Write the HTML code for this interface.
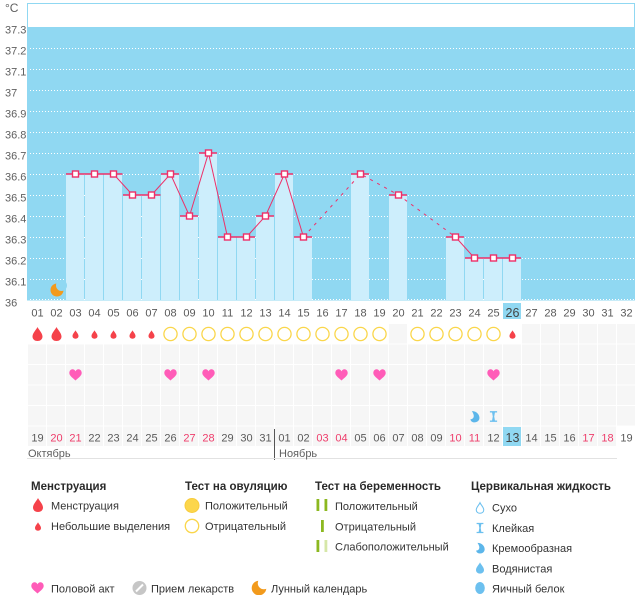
<!DOCTYPE html>
<html><head><meta charset="utf-8">
<style>
html,body{margin:0;padding:0;background:#fff;}
svg{display:block;font-family:"Liberation Sans","DejaVu Sans",sans-serif;}
.ax{font-size:11px;fill:#5f5f5f;}
.d{font-size:11px;fill:#5a5a5a;text-anchor:middle;}
.r{fill:#ee3d6b;}
.lh{font-size:11.5px;font-weight:bold;fill:#2a2a2a;}
.li{font-size:11px;fill:#333;}
</style></head><body>
<svg width="644" height="595" viewBox="0 0 644 595" xmlns="http://www.w3.org/2000/svg">
<defs>
<pattern id="cells" patternUnits="userSpaceOnUse" x="28" y="324" width="19" height="20.5">
<rect x="0" y="0" width="18" height="19.5" fill="#f6f6f6"/>
</pattern>
<path id="drop" d="M0,-7 C1,-4.5 5,-1 5,2.5 C5,5.3 2.8,7 0,7 C-2.8,7 -5,5.3 -5,2.5 C-5,-1 -1,-4.5 0,-7Z"/>
<path id="heart" d="M0,5.5 C-2,3.5 -6.2,1 -6.2,-2 C-6.2,-4.5 -4.3,-5.7 -3,-5.7 C-1.5,-5.7 -0.5,-4.7 0,-3.6 C0.5,-4.7 1.5,-5.7 3,-5.7 C4.3,-5.7 6.2,-4.5 6.2,-2 C6.2,1 2,3.5 0,5.5Z"/>
<path id="hg" d="M-4,-6 H4 V-4.5 H1.6 L0.8,0 L1.6,4.5 H4 V6 H-4 V4.5 H-1.6 L-0.8,0 L-1.6,-4.5 H-4Z"/>
<path id="cream" d="M-3,-6 C3,-6 5.5,-1.5 5.5,1.5 C5.5,4.5 3,6.5 0,6.5 C-3,6.5 -4.5,4.5 -4.5,3 C-1,3 1,-0.5 -3,-6Z"/>
</defs>

<!-- chart frame -->
<rect x="27.5" y="3.5" width="607" height="296.5" fill="#fff" stroke="#90d8f2" stroke-width="1"/>
<rect x="28" y="27" width="606.5" height="273" fill="#90d8f2"/>

<!-- gridlines -->
<g stroke="#fff" stroke-width="1" stroke-dasharray="1 2">
<line x1="30" x2="634" y1="48.5" y2="48.5"/>
<line x1="30" x2="634" y1="69.5" y2="69.5"/>
<line x1="30" x2="634" y1="90.5" y2="90.5"/>
<line x1="30" x2="634" y1="111.5" y2="111.5"/>
<line x1="30" x2="634" y1="132.5" y2="132.5"/>
<line x1="30" x2="634" y1="153.5" y2="153.5"/>
<line x1="30" x2="634" y1="174.5" y2="174.5"/>
<line x1="30" x2="634" y1="195.5" y2="195.5"/>
<line x1="30" x2="634" y1="216.5" y2="216.5"/>
<line x1="30" x2="634" y1="237.5" y2="237.5"/>
<line x1="30" x2="634" y1="258.5" y2="258.5"/>
<line x1="30" x2="634" y1="279.5" y2="279.5"/>
<line x1="30" x2="634" y1="299.5" y2="299.5"/>
</g>

<!-- bars -->
<g fill="#cdeefc">
<rect x="66" y="174" width="18" height="126"/>
<rect x="85" y="174" width="18" height="126"/>
<rect x="104" y="174" width="18" height="126"/>
<rect x="123" y="195" width="18" height="105"/>
<rect x="142" y="195" width="18" height="105"/>
<rect x="161" y="174" width="18" height="126"/>
<rect x="180" y="216" width="18" height="84"/>
<rect x="199" y="153" width="18" height="147"/>
<rect x="218" y="237" width="18" height="63"/>
<rect x="237" y="237" width="18" height="63"/>
<rect x="256" y="216" width="18" height="84"/>
<rect x="275" y="174" width="18" height="126"/>
<rect x="294" y="237" width="18" height="63"/>
<rect x="351" y="174" width="18" height="126"/>
<rect x="389" y="195" width="18" height="105"/>
<rect x="446" y="237" width="18" height="63"/>
<rect x="465" y="258" width="18" height="42"/>
<rect x="484" y="258" width="18" height="42"/>
<rect x="503" y="258" width="18" height="42"/>
</g>

<!-- bar tops -->
<g stroke="#ee2f68" stroke-width="1.5">
<line x1="66" x2="122.5" y1="174" y2="174"/>
<line x1="123" x2="160.5" y1="195" y2="195"/>
<line x1="161" x2="179" y1="174" y2="174"/>
<line x1="180" x2="198" y1="216" y2="216"/>
<line x1="199" x2="217" y1="153" y2="153"/>
<line x1="218" x2="255" y1="237" y2="237"/>
<line x1="256" x2="274" y1="216" y2="216"/>
<line x1="275" x2="293" y1="174" y2="174"/>
<line x1="294" x2="312" y1="237" y2="237"/>
<line x1="351" x2="369" y1="174" y2="174"/>
<line x1="389" x2="407" y1="195" y2="195"/>
<line x1="446" x2="464" y1="237" y2="237"/>
<line x1="465" x2="521" y1="258" y2="258"/>
</g>

<!-- temperature line -->
<g fill="none" stroke="#ee2f68" stroke-width="1">
<polyline points="75.5,174 94.5,174 113.5,174 132.5,195 151.5,195 170.5,174 189.5,216 208.5,153 227.5,237 246.5,237 265.5,216 284.5,174 303.5,237"/>
<polyline points="303.5,237 360.5,174 398.5,195 455.5,237" stroke-dasharray="3 5"/>
<polyline points="455.5,237 474.5,258 493.5,258 512.5,258"/>
</g>
<g fill="#fff" stroke="#ee2f68" stroke-width="1.4">
<rect x="72.5" y="171" width="6" height="6"/>
<rect x="91.5" y="171" width="6" height="6"/>
<rect x="110.5" y="171" width="6" height="6"/>
<rect x="129.5" y="192" width="6" height="6"/>
<rect x="148.5" y="192" width="6" height="6"/>
<rect x="167.5" y="171" width="6" height="6"/>
<rect x="186.5" y="213" width="6" height="6"/>
<rect x="205.5" y="150" width="6" height="6"/>
<rect x="224.5" y="234" width="6" height="6"/>
<rect x="243.5" y="234" width="6" height="6"/>
<rect x="262.5" y="213" width="6" height="6"/>
<rect x="281.5" y="171" width="6" height="6"/>
<rect x="300.5" y="234" width="6" height="6"/>
<rect x="357.5" y="171" width="6" height="6"/>
<rect x="395.5" y="192" width="6" height="6"/>
<rect x="452.5" y="234" width="6" height="6"/>
<rect x="471.5" y="255" width="6" height="6"/>
<rect x="490.5" y="255" width="6" height="6"/>
<rect x="509.5" y="255" width="6" height="6"/>
</g>

<!-- moon on day 02 -->
<circle cx="57" cy="290" r="6.5" fill="#f29a1c"/>
<circle cx="61.5" cy="285.5" r="5.5" fill="#90d8f2"/>

<!-- y-axis labels -->
<text class="ax" x="5" y="12" style="font-size:12px">°C</text>
<text class="ax" x="5" y="33.5">37.3</text>
<text class="ax" x="5" y="54.5">37.2</text>
<text class="ax" x="5" y="75.5">37.1</text>
<text class="ax" x="5" y="96.5">37</text>
<text class="ax" x="5" y="117.5">36.9</text>
<text class="ax" x="5" y="138.5">36.8</text>
<text class="ax" x="5" y="159.5">36.7</text>
<text class="ax" x="5" y="180.5">36.6</text>
<text class="ax" x="5" y="201.5">36.5</text>
<text class="ax" x="5" y="222.5">36.4</text>
<text class="ax" x="5" y="243.5">36.3</text>
<text class="ax" x="5" y="264.5">36.2</text>
<text class="ax" x="5" y="285.5">36.1</text>
<text class="ax" x="5" y="306.5">36</text>

<!-- top day numbers -->
<rect x="503" y="303" width="18" height="16" fill="#90d8f2"/>
<g class="d">
<text x="37.5" y="316.5">01</text><text x="56.5" y="316.5">02</text><text x="75.5" y="316.5">03</text><text x="94.5" y="316.5">04</text>
<text x="113.5" y="316.5">05</text><text x="132.5" y="316.5">06</text><text x="151.5" y="316.5">07</text><text x="170.5" y="316.5">08</text>
<text x="189.5" y="316.5">09</text><text x="208.5" y="316.5">10</text><text x="227.5" y="316.5">11</text><text x="246.5" y="316.5">12</text>
<text x="265.5" y="316.5">13</text><text x="284.5" y="316.5">14</text><text x="303.5" y="316.5">15</text><text x="322.5" y="316.5">16</text>
<text x="341.5" y="316.5">17</text><text x="360.5" y="316.5">18</text><text x="379.5" y="316.5">19</text><text x="398.5" y="316.5">20</text>
<text x="417.5" y="316.5">21</text><text x="436.5" y="316.5">22</text><text x="455.5" y="316.5">23</text><text x="474.5" y="316.5">24</text>
<text x="493.5" y="316.5">25</text><text x="512.5" y="317" style="font-size:12.5px;fill:#444">26</text><text x="531.5" y="316.5">27</text><text x="550.5" y="316.5">28</text>
<text x="569.5" y="316.5">29</text><text x="588.5" y="316.5">30</text><text x="607.5" y="316.5">31</text><text x="626.5" y="316.5">32</text>
</g>

<!-- lower grid cells -->
<rect x="28" y="324" width="608" height="123" fill="url(#cells)"/>
<rect x="617" y="426" width="19" height="22" fill="#fff"/>
<g fill="#fff">
<rect x="28" y="324" width="361" height="20"/>
<rect x="408" y="324" width="114" height="20"/>
</g>

<!-- row 1: menstruation / ovulation -->
<g fill="#f5424a">
<use href="#drop" transform="translate(37.5,334)"/>
<use href="#drop" transform="translate(56.5,334)"/>
<use href="#drop" transform="translate(75.5,334.5) scale(0.6)"/>
<use href="#drop" transform="translate(94.5,334.5) scale(0.6)"/>
<use href="#drop" transform="translate(113.5,334.5) scale(0.6)"/>
<use href="#drop" transform="translate(132.5,334.5) scale(0.6)"/>
<use href="#drop" transform="translate(151.5,334.5) scale(0.6)"/>
<use href="#drop" transform="translate(512.5,334.5) scale(0.6)"/>
</g>
<g fill="#fff" stroke="#fad64a" stroke-width="1.3">
<circle cx="170.5" cy="334" r="6.6"/><circle cx="189.5" cy="334" r="6.6"/><circle cx="208.5" cy="334" r="6.6"/>
<circle cx="227.5" cy="334" r="6.6"/><circle cx="246.5" cy="334" r="6.6"/><circle cx="265.5" cy="334" r="6.6"/>
<circle cx="284.5" cy="334" r="6.6"/><circle cx="303.5" cy="334" r="6.6"/><circle cx="322.5" cy="334" r="6.6"/>
<circle cx="341.5" cy="334" r="6.6"/><circle cx="360.5" cy="334" r="6.6"/><circle cx="379.5" cy="334" r="6.6"/>
<circle cx="417.5" cy="334" r="6.6"/><circle cx="436.5" cy="334" r="6.6"/><circle cx="455.5" cy="334" r="6.6"/>
<circle cx="474.5" cy="334" r="6.6"/><circle cx="493.5" cy="334" r="6.6"/>
</g>

<!-- row 3: hearts -->
<g fill="#ff5cb8">
<use href="#heart" transform="translate(75.5,375)"/>
<use href="#heart" transform="translate(170.5,375)"/>
<use href="#heart" transform="translate(208.5,375)"/>
<use href="#heart" transform="translate(341.5,375)"/>
<use href="#heart" transform="translate(379.5,375)"/>
<use href="#heart" transform="translate(493.5,375)"/>
</g>

<!-- row 5: cervical -->
<use href="#cream" transform="translate(474.5,416.5) scale(0.9)" fill="#5cb6ea"/>
<use href="#hg" transform="translate(493.5,416.5) scale(0.9)" fill="#6cc0ef"/>

<!-- bottom date row -->
<rect x="503" y="427" width="18" height="19" fill="#90d8f2"/>
<g class="d">
<text x="37.5" y="441.5">19</text><text x="56.5" y="441.5" class="r">20</text><text x="75.5" y="441.5" class="r">21</text><text x="94.5" y="441.5">22</text>
<text x="113.5" y="441.5">23</text><text x="132.5" y="441.5">24</text><text x="151.5" y="441.5">25</text><text x="170.5" y="441.5">26</text>
<text x="189.5" y="441.5" class="r">27</text><text x="208.5" y="441.5" class="r">28</text><text x="227.5" y="441.5">29</text><text x="246.5" y="441.5">30</text>
<text x="265.5" y="441.5">31</text><text x="284.5" y="441.5">01</text><text x="303.5" y="441.5">02</text><text x="322.5" y="441.5" class="r">03</text>
<text x="341.5" y="441.5" class="r">04</text><text x="360.5" y="441.5">05</text><text x="379.5" y="441.5">06</text><text x="398.5" y="441.5">07</text>
<text x="417.5" y="441.5">08</text><text x="436.5" y="441.5">09</text><text x="455.5" y="441.5" class="r">10</text><text x="474.5" y="441.5" class="r">11</text>
<text x="493.5" y="441.5">12</text><text x="512.5" y="442" style="font-size:12.5px;fill:#444">13</text><text x="531.5" y="441.5">14</text><text x="550.5" y="441.5">15</text>
<text x="569.5" y="441.5">16</text><text x="588.5" y="441.5" class="r">17</text><text x="607.5" y="441.5" class="r">18</text><text x="626.5" y="441.5">19</text>
</g>
<line x1="274.5" x2="274.5" y1="429" y2="460" stroke="#555" stroke-width="1"/>
<line x1="27" x2="617" y1="458.5" y2="458.5" stroke="#e2e2e2" stroke-width="1"/>
<text class="ax" x="28" y="457">Октябрь</text>
<text class="ax" x="279" y="457">Ноябрь</text>

<!-- legend -->
<text class="lh" x="31" y="490">Менструация</text>
<use href="#drop" transform="translate(38,505)" fill="#f5424a"/>
<text class="li" x="51" y="509.5">Менструация</text>
<use href="#drop" transform="translate(38,526.5) scale(0.6)" fill="#f5424a"/>
<text class="li" x="51" y="530">Небольшие выделения</text>

<text class="lh" x="185" y="490">Тест на овуляцию</text>
<circle cx="192" cy="505.5" r="7" fill="#fcd64c" stroke="#f8cc3c" stroke-width="1"/>
<text class="li" x="205" y="509.5">Положительный</text>
<circle cx="192" cy="526" r="6.7" fill="#fff" stroke="#fad64a" stroke-width="1.3"/>
<text class="li" x="205" y="530">Отрицательный</text>

<text class="lh" x="315" y="490">Тест на беременность</text>
<rect x="316.5" y="499" width="2.8" height="12" fill="#8cb820"/>
<rect x="324.5" y="499" width="2.8" height="12" fill="#8cb820"/>
<text class="li" x="335" y="510">Положительный</text>
<rect x="321" y="520" width="2.8" height="12" fill="#8cb820"/>
<text class="li" x="335" y="530.5">Отрицательный</text>
<rect x="316.5" y="540" width="2.8" height="12" fill="#8cb820"/>
<rect x="324.5" y="540" width="2.8" height="12" fill="#d6e7a8"/>
<text class="li" x="335" y="550.5">Слабоположительный</text>

<text class="lh" x="471" y="490">Цервикальная жидкость</text>
<use href="#drop" transform="translate(480,508) scale(0.75)" fill="#fff" stroke="#6cc0ef" stroke-width="1.4"/>
<text class="li" x="492" y="511.5">Сухо</text>
<use href="#hg" transform="translate(480,528) scale(0.85)" fill="#6cc0ef"/>
<text class="li" x="492" y="532">Клейкая</text>
<use href="#cream" transform="translate(480,548) scale(0.85)" fill="#5cb6ea"/>
<text class="li" x="492" y="552">Кремообразная</text>
<use href="#drop" transform="translate(480,568) scale(0.8)" fill="#6cc0ef"/>
<text class="li" x="492" y="572.5">Водянистая</text>
<ellipse cx="480" cy="588" rx="4.8" ry="6" fill="#6cc0ef"/>
<text class="li" x="492" y="592.5">Яичный белок</text>

<use href="#heart" transform="translate(37.5,588)" fill="#ff5cb8"/>
<text class="li" x="51" y="592.5">Половой акт</text>
<circle cx="139.5" cy="588" r="7" fill="#c6c6c6"/>
<line x1="136" x2="143" y1="591.5" y2="584.5" stroke="#fff" stroke-width="2"/>
<text class="li" x="151" y="592.5">Прием лекарств</text>
<circle cx="259" cy="588" r="7.3" fill="#f29a1c"/>
<circle cx="263.8" cy="583.2" r="6" fill="#fff"/>
<text class="li" x="271" y="592.5">Лунный календарь</text>
</svg>
</body></html>
